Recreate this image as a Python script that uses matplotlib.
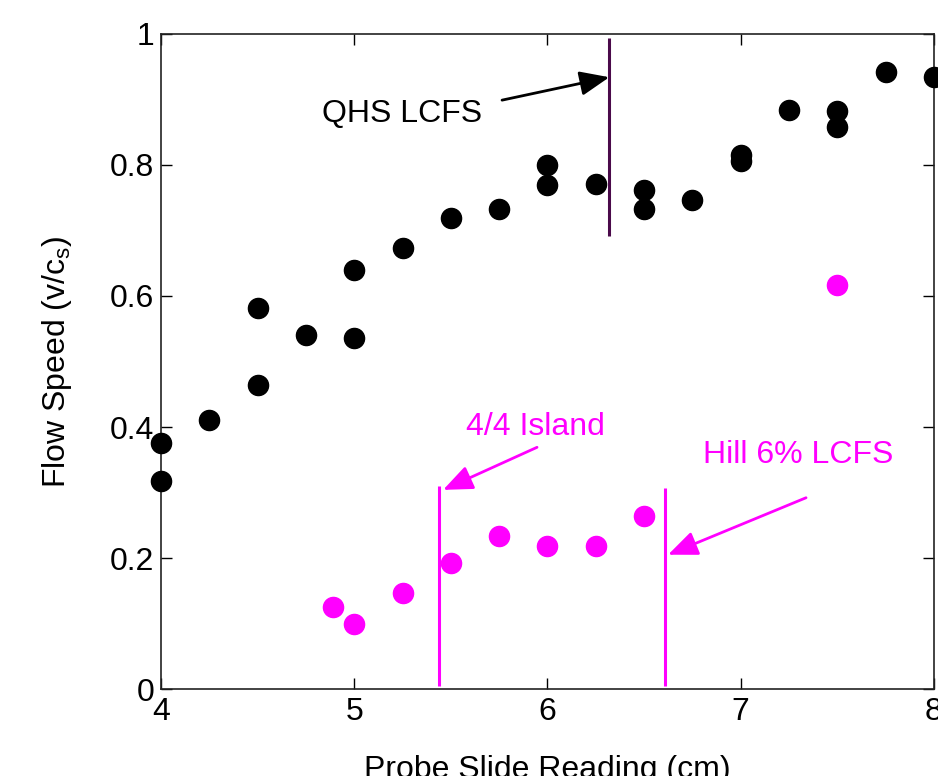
from matplotlib import pyplot as plt

plt.rcParams['font.family'] = ['Liberation Sans', 'DejaVu Sans']
plt.rcParams['mathtext.fontset'] = 'custom'
plt.rcParams['mathtext.rm'] = 'Liberation Sans'

# black series (flow speed, all points)
x_black = [4.0, 4.0, 4.25, 4.5, 4.5, 4.75, 5.0, 5.0, 5.25, 5.5, 5.75, 6.0, 6.0,
           6.25, 6.5, 6.5, 6.75, 7.0, 7.0, 7.25, 7.5, 7.5, 7.75, 8.0]
y_black = [0.375, 0.318, 0.411, 0.582, 0.464, 0.540, 0.536, 0.640, 0.673, 0.719,
           0.733, 0.800, 0.769, 0.771, 0.762, 0.733, 0.747, 0.815, 0.806, 0.884,
           0.882, 0.858, 0.942, 0.934]

# magenta series
x_mag = [4.89, 5.0, 5.25, 5.5, 5.75, 6.0, 6.25, 6.5, 7.5]
y_mag = [0.125, 0.099, 0.147, 0.192, 0.234, 0.218, 0.218, 0.264, 0.617]

# vertical markers: position, ymin, ymax
qhs_lcfs = (6.32, 0.692, 0.994)
island = (5.44, 0.005, 0.310)
hill_lcfs = (6.61, 0.005, 0.307)

x_ticks = [4, 5, 6, 7, 8]
y_ticks = [0, 0.2, 0.4, 0.6, 0.8, 1]
y_tick_labels = ['0', '0.2', '0.4', '0.6', '0.8', '1']

MAG = '#ff00ff'
FS = 23

fig = plt.figure(figsize=(9.38, 7.76), dpi=100)
ax = fig.add_axes([0.1716, 0.1121, 0.8241, 0.8441])

ax.plot(x_black, y_black, 'o', color='k', ms=14.5, clip_on=False, zorder=3)
ax.plot(x_mag, y_mag, 'o', color=MAG, ms=14.5, clip_on=False, zorder=3)

ax.vlines(qhs_lcfs[0], qhs_lcfs[1], qhs_lcfs[2], color='#4a0a4a', lw=2.2)
ax.vlines(island[0], island[1], island[2], color=MAG, lw=2.2)
ax.vlines(hill_lcfs[0], hill_lcfs[1], hill_lcfs[2], color=MAG, lw=2.2)

arrow_kw = dict(arrowstyle='-|>,head_length=0.6,head_width=0.25', lw=2,
                mutation_scale=30, shrinkA=0, shrinkB=0)
ax.annotate('', xy=(6.32, 0.934), xytext=(5.765, 0.899),
            arrowprops=dict(color='k', **arrow_kw))
ax.text(4.833, 0.878, 'QHS LCFS', fontsize=FS, va='center', ha='left')

ax.annotate('', xy=(5.46, 0.304), xytext=(5.946, 0.369),
            arrowprops=dict(color=MAG, **arrow_kw))
ax.text(5.58, 0.400, '4/4 Island', fontsize=FS, va='center', ha='left', color=MAG)

ax.annotate('', xy=(6.624, 0.205), xytext=(7.338, 0.292),
            arrowprops=dict(color=MAG, **arrow_kw))
ax.text(6.805, 0.357, 'Hill 6% LCFS', fontsize=FS, va='center', ha='left', color=MAG)

ax.set_xlim(4, 8)
ax.set_ylim(0, 1)
ax.set_xticks(x_ticks)
ax.set_yticks(y_ticks)
ax.set_yticklabels(y_tick_labels)
ax.tick_params(direction='in', top=True, right=True, length=8, width=1,
               labelsize=FS)
ax.tick_params(axis='y', pad=5)
ax.tick_params(axis='x', pad=6)
for s in ax.spines.values():
    s.set_linewidth(1.2)
    s.set_color('#222222')

ax.set_xlabel('Probe Slide Reading (cm)', fontsize=FS, labelpad=20)
ax.set_ylabel(r'Flow Speed (v/c$_\mathregular{s}$)', fontsize=FS, labelpad=26)

fig.savefig('out.png', dpi=100)
